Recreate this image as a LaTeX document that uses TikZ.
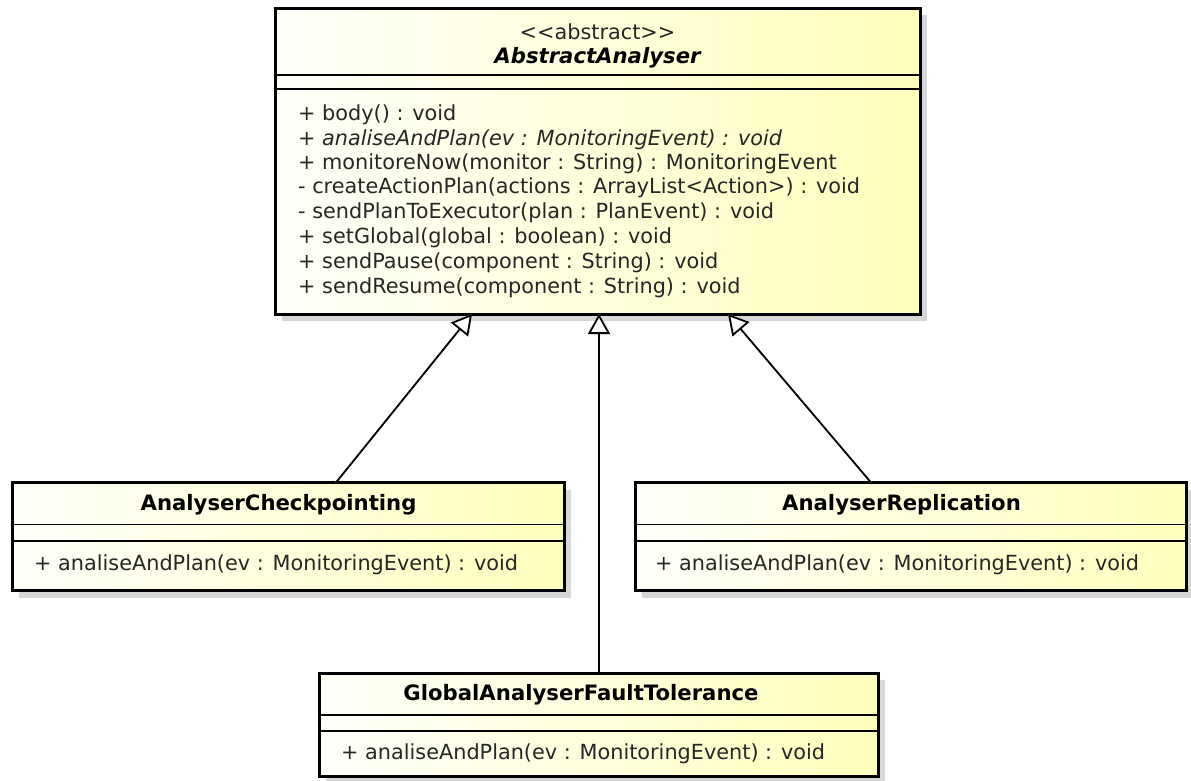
\documentclass[tikz,border=0pt]{standalone}
\usepackage{fontspec}
\setmainfont{DejaVu Sans}
\usetikzlibrary{arrows.meta}

\begin{document}
\begin{tikzpicture}[x=1pt,y=1pt,
  classbox/.style={draw=black, line width=3pt, left color=yellow!2, right color=yellow!26, inner sep=0pt},
  shadowbox/.style={fill=black!16, draw=none, inner sep=0pt},
  sep/.style={line width=1.4pt},
  member/.style={anchor=west, inner sep=0pt, text height=15pt, text depth=5pt,
                 font=\fontsize{20.8}{24}\selectfont, text=black!85},
  cname/.style={inner sep=0pt, text height=15pt, text depth=5pt,
                font=\fontsize{21.2}{24}\selectfont\bfseries},
  gen/.style={line width=1.8pt, -{Triangle[fill=white, length=20pt, width=22pt, line width=1.8pt]}},
  genshadow/.style={line width=1.8pt, draw=black!12, -{Triangle[fill=none, length=20pt, width=22pt, line width=1.8pt]}}
]
\useasboundingbox (0,0) rectangle (1191,-780);

% drop shadows
\node[shadowbox, minimum width=645pt, minimum height=306pt] (absS) at (604.5,-168) {};
\node[shadowbox, minimum width=552pt, minimum height=108pt] (ckS) at (295,-543.5) {};
\node[shadowbox, minimum width=551pt, minimum height=108pt] (rpS) at (917.5,-543.5) {};
\node[shadowbox, minimum width=559pt, minimum height=103pt] (ftS) at (605.5,-731.5) {};

% class boxes
\node[classbox, minimum width=645pt, minimum height=306pt] (abs) at (597.5,-161) {};
\node[classbox, minimum width=552pt, minimum height=108pt] (ck) at (288,-536.5) {};
\node[classbox, minimum width=551pt, minimum height=108pt] (rp) at (910.5,-536.5) {};
\node[classbox, minimum width=559pt, minimum height=103pt] (ft) at (598.5,-724.5) {};

% compartment separators
\draw[sep] (abs.west |- 0,-75) -- (abs.east |- 0,-75);
\draw[sep] (abs.west |- 0,-89) -- (abs.east |- 0,-89);
\draw[sep] (ck.west |- 0,-524.5) -- (ck.east |- 0,-524.5);
\draw[sep] (ck.west |- 0,-541) -- (ck.east |- 0,-541);
\draw[sep] (rp.west |- 0,-524.5) -- (rp.east |- 0,-524.5);
\draw[sep] (rp.west |- 0,-541) -- (rp.east |- 0,-541);
\draw[sep] (ft.west |- 0,-715) -- (ft.east |- 0,-715);
\draw[sep] (ft.west |- 0,-731) -- (ft.east |- 0,-731);

% AbstractAnalyser
\node[inner sep=0pt, font=\fontsize{20.8}{24}\selectfont, text=black!85] (absSt) at (597.5,-32) {<\kern0pt<abstract>\kern0pt>};
\node[cname, font=\fontsize{21.2}{24}\selectfont\bfseries\itshape] (absN) at (597.5,-58) {AbstractAnalyser};
\node[member] (m1) at (298,-115) {+ body() : void};
\node[member, font=\fontsize{20.8}{24}\selectfont\itshape] (m2) at (298,-140) {+ analiseAndPlan(ev : MonitoringEvent) : void};
\node[member] (m3) at (298,-164) {+ monitoreNow(monitor : String) : MonitoringEvent};
\node[member] (m4) at (298,-188) {- createActionPlan(actions : ArrayList<Action>) : void};
\node[member] (m5) at (298,-213) {- sendPlanToExecutor(plan : PlanEvent) : void};
\node[member] (m6) at (298,-238) {+ setGlobal(global : boolean) : void};
\node[member] (m7) at (298,-263) {+ sendPause(component : String) : void};
\node[member] (m8) at (298,-288) {+ sendResume(component : String) : void};

% subclasses
\node[cname] (ckN) at (278.5,-505) {AnalyserCheckpointing};
\node[member] (ckM) at (34,-565) {+ analiseAndPlan(ev : MonitoringEvent) : void};
\node[cname] (rpN) at (901.5,-505) {AnalyserReplication};
\node[member] (rpM) at (655,-565) {+ analiseAndPlan(ev : MonitoringEvent) : void};
\node[cname] (ftN) at (581,-695) {GlobalAnalyserFaultTolerance};
\node[member] (ftM) at (341,-754) {+ analiseAndPlan(ev : MonitoringEvent) : void};

% generalisation end points
\coordinate (ckTop) at (336,-482.5);
\coordinate (absL) at (472,-314);
\coordinate (ftTop) at (599,-673);
\coordinate (absC) at (599,-314);
\coordinate (rpTop) at (871,-482.5);
\coordinate (absR) at (728,-314);

% connector shadows
\begin{scope}[xshift=8pt, yshift=-3pt]
\draw[genshadow] (ckTop) -- (absL);
\draw[genshadow] (ftTop) -- (absC);
\draw[genshadow] (rpTop) -- (absR);
\end{scope}

% generalisations
\draw[gen] (ckTop) -- (absL);
\draw[gen] (ftTop) -- (absC);
\draw[gen] (rpTop) -- (absR);
\end{tikzpicture}
\end{document}
